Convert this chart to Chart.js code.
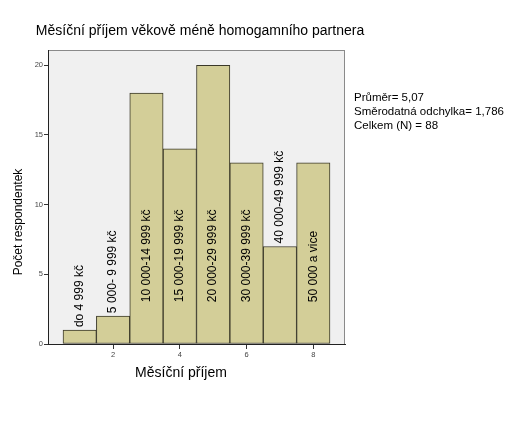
<!DOCTYPE html>
<html>
<head>
<meta charset="utf-8">
<script src="https://cdn.jsdelivr.net/npm/chart.js@4/dist/chart.umd.min.js"></script>
<style>
  body { margin: 0; background: #fff; }
  #wrap { width: 530px; height: 424px; }
</style>
</head>
<body>
<div id="wrap"><canvas id="graf" width="530" height="424"></canvas></div>
<script>
// data
const kategorie = [1, 2, 3, 4, 5, 6, 7, 8];
const pocty = [1, 2, 18, 14, 20, 13, 7, 13];
const popisky = [
  "do 4 999 kč", "5 000- 9 999 kč", "10 000-14 999 kč", "15 000-19 999 kč",
  "20 000-29 999 kč", "30 000-39 999 kč", "40 000-49 999 kč", "50 000 a vice"
];
const xTicks = [2, 4, 6, 8];
const yTicks = [0, 5, 10, 15, 20];
const statistiky = ["Průměr= 5,07", "Směrodatná odchylka= 1,786", "Celkem (N) = 88"];
const nadpis = "Měsíční příjem věkově méně homogamního partnera";
const osaX = "Měsíční příjem";
const osaY = "Počet respondentek";

const FONT = "'Liberation Sans', Arial, sans-serif";

// background of the plot area + frame
const pozadi = {
  id: "pozadi",
  beforeDraw(chart) {
    const { ctx, chartArea: a } = chart;
    ctx.save();
    ctx.fillStyle = "#f0f0f0";
    ctx.fillRect(a.left, a.top, a.right - a.left, a.bottom - a.top);
    ctx.strokeStyle = "#8a8a8a";
    ctx.lineWidth = 1;
    ctx.strokeRect(a.left + 0.5, a.top + 0.5, a.right - a.left - 1, a.bottom - a.top);
    ctx.restore();
  }
};

// texts: labels in bars, titles, stats
const texty = {
  id: "texty",
  afterDatasetsDraw(chart) {
    const { ctx } = chart;
    const xs = chart.scales.x, ys = chart.scales.y;
    ctx.save();
    ctx.font = "12px " + FONT;
    ctx.fillStyle = "#000";
    ctx.textBaseline = "middle";
    ctx.textAlign = "left";
    popisky.forEach((t, i) => {
      const px = xs.getPixelForValue(kategorie[i]);
      const top = ys.getPixelForValue(pocty[i]);
      const base = ys.getPixelForValue(3);
      const w = ctx.measureText(t).width;
      const start = (base - w - 4 > top) ? base : top - 3;
      ctx.save();
      ctx.translate(px, start);
      ctx.rotate(-Math.PI / 2);
      ctx.fillText(t, 0, 0);
      ctx.restore();
    });
    ctx.restore();
  },
  afterDraw(chart) {
    const { ctx } = chart;
    ctx.save();
    ctx.fillStyle = "#000";
    ctx.textBaseline = "middle";
    ctx.font = "14px " + FONT;
    ctx.textAlign = "center";
    ctx.fillText(nadpis, 200, 31);
    ctx.fillText(osaX, 181, 373);
    ctx.font = "12px " + FONT;
    ctx.save();
    ctx.translate(19, 222);
    ctx.rotate(-Math.PI / 2);
    ctx.fillText(osaY, 0, 0);
    ctx.restore();
    ctx.textAlign = "left";
    ctx.font = "11.5px " + FONT;
    statistiky.forEach((s, i) => ctx.fillText(s, 354, 98 + i * 14));
    ctx.restore();
  }
};

new Chart(document.getElementById("graf"), {
  type: "bar",
  data: {
    datasets: [{
      data: kategorie.map((k, i) => ({ x: k, y: pocty[i] })),
      backgroundColor: "#d3ce98",
      borderColor: "#3a3828",
      borderWidth: 1,
      borderSkipped: false,
      barPercentage: 1,
      categoryPercentage: 1
    }]
  },
  options: {
    responsive: false,
    animation: false,
    layout: { padding: { top: 50, right: 185, left: 0, bottom: 0 } },
    plugins: { legend: { display: false }, tooltip: { enabled: false } },
    scales: {
      x: {
        type: "linear",
        offset: false,
        min: 0.05,
        max: 8.95,
        afterFit: (s) => { s.height = 80; },
        afterBuildTicks: (s) => { s.ticks = xTicks.map(v => ({ value: v })); },
        grid: { offset: false, drawOnChartArea: false, tickLength: 5, color: "#333" },
        border: { color: "#222", width: 1 },
        ticks: { font: { size: 7.5, family: FONT }, color: "#444", padding: 1, maxRotation: 0 }
      },
      y: {
        min: 0,
        max: 21.1,
        afterFit: (s) => { s.width = 48; },
        afterBuildTicks: (s) => { s.ticks = yTicks.map(v => ({ value: v })); },
        grid: { drawOnChartArea: false, tickLength: 4, color: "#333" },
        border: { color: "#222", width: 1 },
        ticks: { font: { size: 7.5, family: FONT }, color: "#444", padding: 1 }
      }
    }
  },
  plugins: [pozadi, texty]
});
</script>
</body>
</html>
